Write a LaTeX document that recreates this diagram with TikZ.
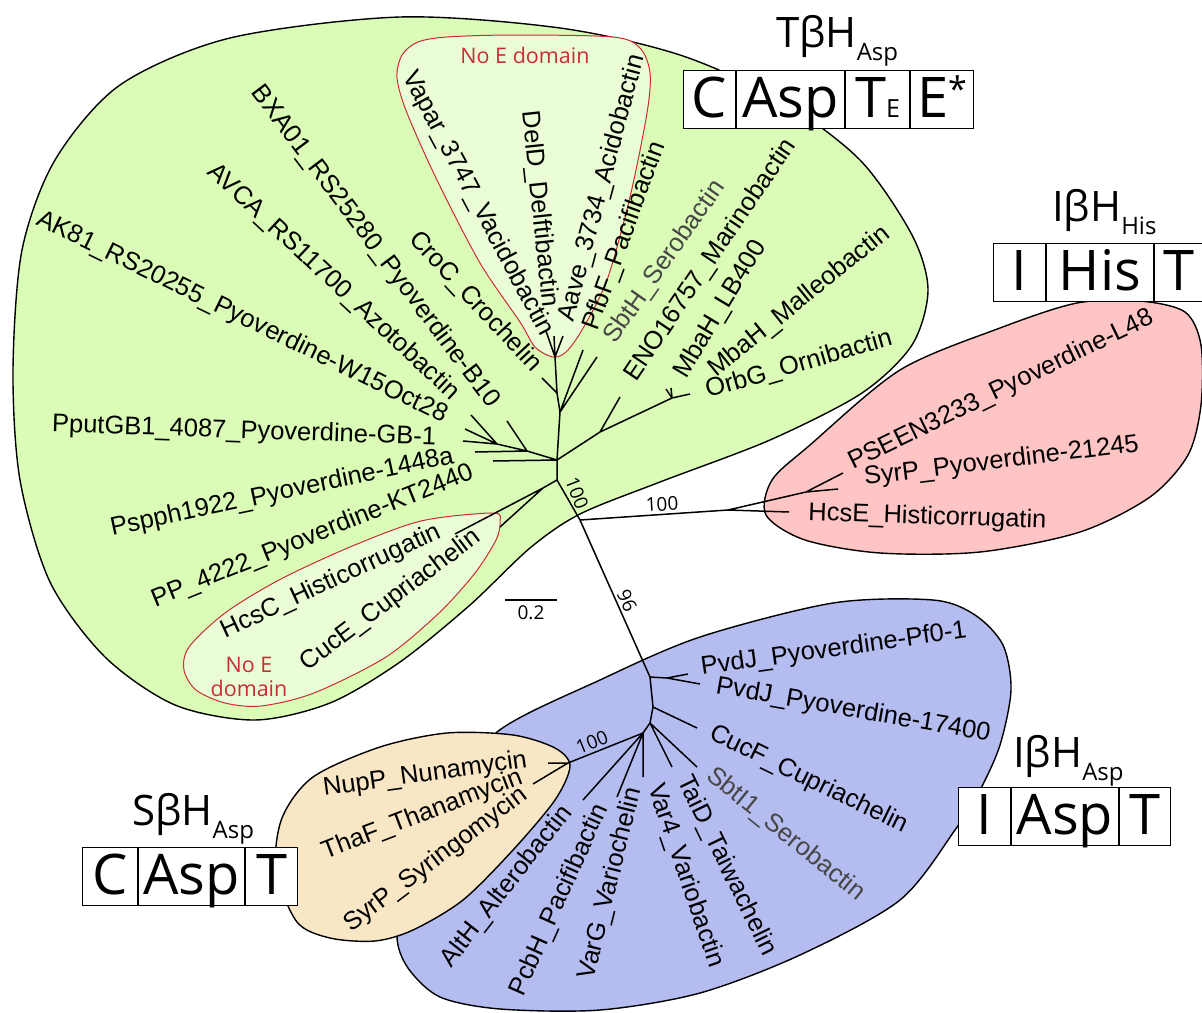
\documentclass[tikz,border=0pt]{standalone}
\usepackage{fontspec}
\setmainfont{Liberation Sans}
\newfontfamily\domfont{Open Sans}
\usetikzlibrary{positioning}
\definecolor{cladegreen}{RGB}{218,252,182}
\definecolor{noegreen}{RGB}{234,253,214}
\definecolor{cladepink}{RGB}{255,197,197}
\definecolor{cladeblue}{RGB}{181,188,240}
\definecolor{cladeorange}{RGB}{249,230,197}
\definecolor{noered}{RGB}{200,45,55}
\definecolor{leafgray}{RGB}{70,70,70}
\newcommand{\dsub}[1]{\raisebox{-13pt}{\fontsize{24}{24}\selectfont #1}}

\begin{document}
\begin{tikzpicture}[x=1pt, y=-1pt,
    blob/.style={draw, line width=1.4pt},
    noeloop/.style={draw=noered, line width=1pt, fill=noegreen},
    br/.style={line width=1.5pt},
    leaf/.style={font=\fontsize{25.5}{28}\selectfont, inner sep=0pt},
    gleaf/.style={leaf, text=leafgray},
    boot/.style={font=\domfont\fontsize{19}{20}\selectfont, inner sep=1pt},
    noe/.style={font=\domfont\fontsize{21.5}{24}\selectfont, text=noered, inner sep=0pt, align=center},
    cell/.style={draw, fill=white, line width=1pt, minimum height=58, inner sep=0pt,
                 text height=46, text depth=10, font=\domfont\fontsize{56}{60}\selectfont},
    dtitle/.style={font=\domfont\fontsize{42}{44}\selectfont, inner sep=0pt, anchor=base west}]
  \useasboundingbox (0,0) rectangle (1202,1012);

  % clades
  \path[blob, fill=cladegreen] plot[smooth cycle] coordinates {(400,17) (560,28) (680,55)
    (780,100) (860,160) (912,235) (928,290) (912,345) (862,393) (770,440) (660,482) (580,514)
    (530,548) (470,605) (400,662) (330,703) (255,720) (175,705) (105,657) (50,582) (20,480)
    (13,370) (22,250) (55,160) (120,85) (230,38)};
  \path[blob, fill=cladepink] plot[smooth cycle] coordinates {(1077,303) (1140,301) (1185,312)
    (1201,345) (1201,405) (1188,455) (1150,497) (1080,532) (980,552) (880,553) (805,540)
    (766,515) (772,480) (810,445) (900,370) (1000,328)};
  \path[blob, fill=cladeblue] plot[smooth cycle] coordinates {(497,732) (600,680) (700,637)
    (833,603) (933,600) (975,615) (1003,645) (1011,690) (1000,745) (980,790) (955,830)
    (900,900) (800,955) (700,993) (600,1010) (500,1009) (440,997) (408,968) (397,935)
    (410,880) (450,800)};
  \path[blob, fill=cladeorange] plot[smooth cycle] coordinates {(276,870) (282,818) (313,777)
    (380,747) (447,733) (513,735) (555,748) (570,766) (555,800) (513,850) (463,900) (413,930)
    (375,941) (330,938) (297,922)};
  \path[noeloop] plot[smooth cycle] coordinates {(553,357) (535,347) (520,322) (480,263)
    (437,180) (407,113) (397,78) (402,55) (418,42) (447,37) (513,35) (613,37) (640,48)
    (650,73) (647,113) (630,197) (607,280) (582,330) (566,352)};
  \path[noeloop] plot[smooth cycle] coordinates {(493,513) (421,521) (350,547) (279,580)
    (225,613) (189,647) (184,670) (196,690) (225,703) (261,706) (314,693) (386,657)
    (439,613) (475,573) (496,540) (500,522)};
  \node[noe] (noeTop) at (525,55) {No E domain};
  \node[noe] (noeLow) at (249,677) {No E\\domain};

  % inner nodes
  \coordinate (ctr) at (580,520);
  \coordinate (g0) at (557,460);
  \coordinate (s1) at (560,412);
  \coordinate (s2) at (557,393);
  \coordinate (s3) at (555,357);
  \coordinate (e0) at (600,432);
  \coordinate (m1) at (672,398);
  \coordinate (l0) at (527,451);
  \coordinate (l1) at (497,444);
  \coordinate (q0) at (557,480);
  \coordinate (q1) at (543,488);
  \coordinate (r0) at (728,510);
  \coordinate (r1) at (806,492);
  \coordinate (b0) at (650,677);
  \coordinate (p1) at (667,678);
  \coordinate (b1) at (653,707);
  \coordinate (b2) at (650,723);
  \coordinate (b3) at (643,733);
  \coordinate (o0) at (568,763);
  % tips
  \coordinate (tVapar) at (546,331);
  \coordinate (tDelD) at (554,336);
  \coordinate (tAave) at (563,336);
  \coordinate (tPfbF) at (583,350);
  \coordinate (tSbtH) at (597,357);
  \coordinate (tCroC) at (542,378);
  \coordinate (tENO) at (620,397);
  \coordinate (tLB) at (666,389);
  \coordinate (tMalleo) at (671,388);
  \coordinate (tOrbG) at (690,394);
  \coordinate (tBXA) at (507,421);
  \coordinate (tAVCA) at (471,415);
  \coordinate (tAK) at (465,429);
  \coordinate (tPput) at (463,441);
  \coordinate (tPspph) at (475,452);
  \coordinate (tPP) at (493,461);
  \coordinate (tHcsC) at (455,534);
  \coordinate (tCucE) at (500,527);
  \coordinate (tPSEEN) at (843,473);
  \coordinate (tSyrPp) at (838,489);
  \coordinate (tHcsE) at (789,512);
  \coordinate (tPvdA) at (688,674);
  \coordinate (tPvdB) at (700,684);
  \coordinate (tCucF) at (697,728);
  \coordinate (tSbtl) at (697,767);
  \coordinate (tTaiD) at (672,767);
  \coordinate (tVar) at (643,777);
  \coordinate (tPcbH) at (617,797);
  \coordinate (tAltH) at (583,800);
  \coordinate (tNupP) at (548,763);
  \coordinate (tThaF) at (533,784);

  % branches
  \draw[br] (ctr) -- (q0) -- (g0) -- (s1) -- (s2) -- (s3);
  \draw[br] (s3) -- (tVapar) (s3) -- (tDelD) (s3) -- (tAave);
  \draw[br] (s1) -- (tPfbF) (s1) -- (tSbtH) (s2) -- (tCroC);
  \draw[br] (g0) -- (e0) -- (m1) (e0) -- (tENO);
  \draw[br] (m1) -- (tLB) (m1) -- (tMalleo) (m1) -- (tOrbG);
  \draw[br] (g0) -- (l0) -- (l1) (l0) -- (tBXA) (l0) -- (tPspph) (g0) -- (tPP);
  \draw[br] (l1) -- (tAVCA) (l1) -- (tAK) (l1) -- (tPput);
  \draw[br] (q0) -- (q1) -- (tHcsC) (q1) -- (tCucE);
  \draw[br] (ctr) -- (r0) -- (tHcsE) (r0) -- (r1) -- (tPSEEN) (r1) -- (tSyrPp);
  \draw[br] (ctr) -- (b0) -- (p1) -- (tPvdA) (p1) -- (tPvdB);
  \draw[br] (b0) -- (b1) -- (b2) -- (b3);
  \draw[br] (b1) -- (tCucF) (b2) -- (tSbtl) (b2) -- (tTaiD);
  \draw[br] (b3) -- (tVar) (b3) -- (tPcbH) (b3) -- (tAltH) (b3) -- (o0);
  \draw[br] (o0) -- (tNupP) (o0) -- (tThaF);

  % support values and scale
  \node[boot, rotate=-69] (bsGreen) at (577,493) {100};
  \node[boot, rotate=3] (bsRed) at (662,504) {100};
  \node[boot, rotate=-66] (bsBlue) at (627,601) {96};
  \node[boot, rotate=22] (bsOrange) at (592,742) {100};
  \coordinate (sbL) at (505,600);
  \coordinate (sbR) at (557,600);
  \draw[line width=1.2pt] (sbL) -- (sbR);
  \node[boot] (sbT) at (531,613) {0.2};

  % green leaves
  \node[leaf, rotate=-62, anchor=base east] (lVapar) at (541,337) {Vapar\_3747\_Vacidobactin};
  \node[leaf, rotate=-84, anchor=base east] (lDelD) at (543,308) {DelD\_Delftibactin};
  \node[leaf, rotate=75, anchor=base west] (lAave) at (573,323) {Aave\_3734\_Acidobactin};
  \node[leaf, rotate=70, anchor=base west] (lPfbF) at (597,332) {PfbF\_Pacifibactin};
  \node[gleaf, rotate=55, anchor=base west] (lSbtH) at (615,345) {SbtH\_Serobactin};
  \node[leaf, rotate=56, anchor=base west] (lENO) at (636,383) {ENO16757\_Marinobactin};
  \node[leaf, rotate=59, anchor=base west] (lLB) at (686,380) {MbaH\_LB400};
  \node[leaf, rotate=39, anchor=base west] (lMalleo) at (716,378) {MbaH\_Malleobactin};
  \node[leaf, rotate=16, anchor=base west] (lOrbG) at (708,398) {OrbG\_Ornibactin};
  \node[leaf, rotate=-47, anchor=base east] (lCroC) at (532,373) {CroC\_Crochelin};
  \node[leaf, rotate=-53, anchor=base east] (lBXA) at (489,409) {BXA01\_RS25280\_Pyoverdine-B10};
  \node[leaf, rotate=-43, anchor=base east] (lAVCA) at (451,401) {AVCA\_RS11700\_Azotobactin};
  \node[leaf, rotate=-26, anchor=base east] (lAK) at (443,423) {AK81\_RS20255\_Pyoverdine-W15Oct28};
  \node[leaf, rotate=-2, anchor=base east] (lPput) at (436,445) {PputGB1\_4087\_Pyoverdine-GB-1};
  \node[leaf, rotate=12, anchor=base east] (lPspph) at (455,463) {Pspph1922\_Pyoverdine-1448a};
  \node[leaf, rotate=22, anchor=base east] (lPP) at (475,478) {PP\_4222\_Pyoverdine-KT2440};
  \node[leaf, rotate=25, anchor=base east] (lHcsC) at (443,537) {HcsC\_Histicorrugatin};
  \node[leaf, rotate=37, anchor=base east] (lCucE) at (482,540) {CucE\_Cupriachelin};
  % red leaves
  \node[leaf, rotate=26, anchor=base west] (lPSEEN) at (853,470) {PSEEN3233\_Pyoverdine-L48};
  \node[leaf, rotate=7, anchor=base west] (lSyrPp) at (865,485) {SyrP\_Pyoverdine-21245};
  \node[leaf, rotate=-2, anchor=base west] (lHcsE) at (808,520) {HcsE\_Histicorrugatin};
  % blue leaves
  \node[leaf, rotate=8, anchor=base west] (lPvdA) at (702,675) {PvdJ\_Pyoverdine-Pf0-1};
  \node[leaf, rotate=-10, anchor=base west] (lPvdB) at (715,693) {PvdJ\_Pyoverdine-17400};
  \node[leaf, rotate=-26, anchor=base west] (lCucF) at (708,738) {CucF\_Cupriachelin};
  \node[gleaf, rotate=-39, anchor=base west] (lSbtl) at (705,778) {SbtI1\_Serobactin};
  \node[leaf, rotate=-64, anchor=base west] (lTaiD) at (677,780) {TaiD\_Taiwachelin};
  \node[leaf, rotate=-71, anchor=base west] (lVar4) at (648,787) {Var4\_Variobactin};
  \node[leaf, rotate=76, anchor=base east] (lVarG) at (641,790) {VarG\_Variochelin};
  \node[leaf, rotate=66, anchor=base east] (lPcbH) at (608,808) {PcbH\_Pacifibactin};
  \node[leaf, rotate=52, anchor=base east] (lAltH) at (573,813) {AltH\_Alterobactin};
  % orange leaves
  \node[leaf, rotate=8, anchor=base east] (lNupP) at (528,767) {NupP\_Nunamycin};
  \node[leaf, rotate=21, anchor=base east] (lThaF) at (524,783) {ThaF\_Thanamycin};
  \node[leaf, rotate=37, anchor=base east] (lSyrPs) at (529,798) {SyrP\_Syringomycin};

  % domain boxes
  \node[cell, minimum width=52, anchor=north west] (tbC) at (683,70) {C};
  \node[cell, minimum width=108, right=0pt of tbC] (tbAsp) {Asp};
  \node[cell, minimum width=64, right=0pt of tbAsp] (tbT) {T{\fontsize{25}{25}\selectfont E}};
  \node[cell, minimum width=63, right=0pt of tbT] (tbE) {E\raisebox{16pt}{\fontsize{34}{34}\selectfont *}};
  \node[dtitle] (tbTitle) at (776,47) {TβH\dsub{Asp}};

  \node[cell, minimum width=52, anchor=north west] (ihI) at (993,243) {I};
  \node[cell, minimum width=107, right=0pt of ihI] (ihHis) {His};
  \node[cell, minimum width=48, right=0pt of ihHis] (ihT) {T};
  \node[dtitle] (ihTitle) at (1052,221) {IβH\dsub{His}};

  \node[cell, minimum width=52, anchor=north west] (iaI) at (958,787) {I};
  \node[cell, minimum width=107, right=0pt of iaI] (iaAsp) {Asp};
  \node[cell, minimum width=51, right=0pt of iaAsp] (iaT) {T};
  \node[dtitle] (iaTitle) at (1013,767) {IβH\dsub{Asp}};

  \node[cell, minimum width=55, anchor=north west] (saC) at (82,847) {C};
  \node[cell, minimum width=106, right=0pt of saC] (saAsp) {Asp};
  \node[cell, minimum width=52, right=0pt of saAsp] (saT) {T};
  \node[dtitle] (saTitle) at (132,825) {SβH\dsub{Asp}};
\end{tikzpicture}
\end{document}
